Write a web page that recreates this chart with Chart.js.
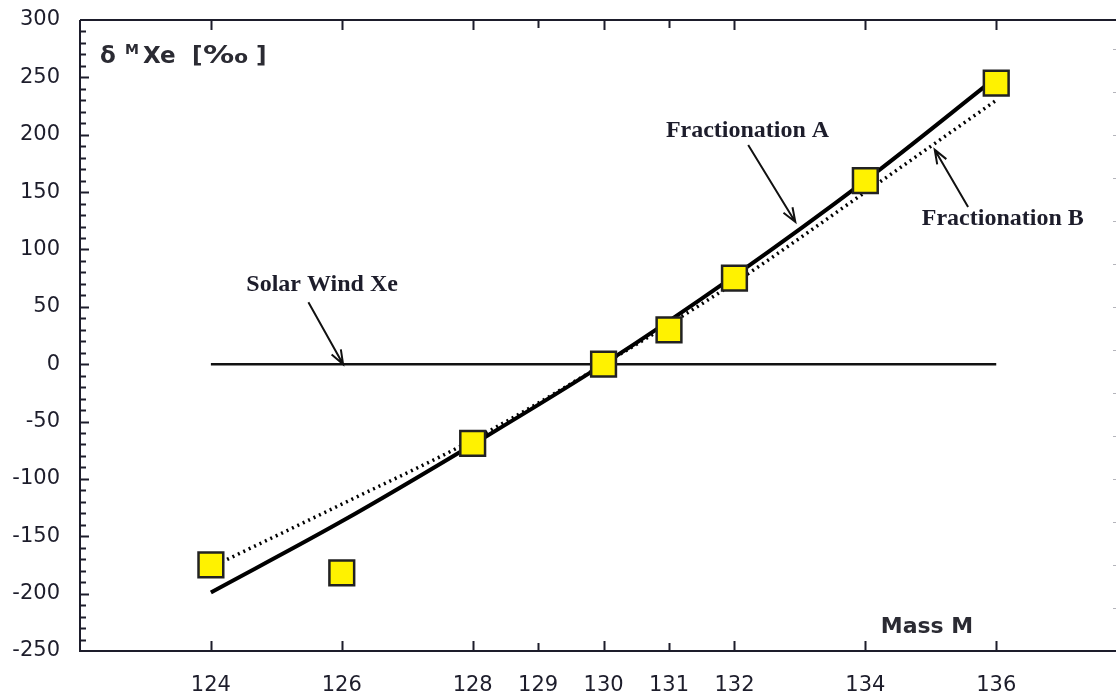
<!DOCTYPE html>
<html>
<head>
<meta charset="utf-8">
<script src="https://cdn.jsdelivr.net/npm/chart.js@4/dist/chart.umd.min.js"></script>
<style>
  html, body { margin: 0; padding: 0; background: #fff; overflow: hidden; }
  #wrap { width: 1116px; height: 695px; }
</style>
</head>
<body>
<div id="wrap"><canvas id="xeChart" width="1116" height="695"></canvas></div>
<script>
// xenon isotope fractionation: delta values per mass relative to solar wind

const massTicks = [124, 126, 128, 129, 130, 131, 132, 134, 136];
const shortTicks = [129, 131];
const deltaTicks = [-250, -200, -150, -100, -50, 0, 50, 100, 150, 200, 250, 300];

const measuredMass = [124, 126, 128, 130, 131, 132, 134, 136];
const measuredDelta = [-175, -182, -69, 0, 30, 75, 160, 245];

const curveMass = [124, 126, 128, 130, 132, 134, 136];
const fractionationA = [-199, -137, -70, 0, 77, 160, 250];
const fractionationB = [-177, -122, -66, 0, 71, 150, 230];

const solarMass = [124, 136];
const solarDelta = [0, 0];

const ink = "#1d1d2b";
const pts = (xs, ys) => xs.map((x, i) => ({ x: x, y: ys[i] }));

// labels and arrows, placed in data units
const notes = [
  { text: "Fractionation A", x: 132.2, y: 203, tail: [132.21, 191], tip: [132.93, 124] },
  { text: "Fractionation B", x: 136.1, y: 127, tail: [135.57, 137], tip: [135.06, 187] },
  { text: "Solar Wind Xe", x: 125.7, y: 69, tail: [125.49, 54], tip: [126.02, 0] }
];

function arrow(ctx, x1, y1, x2, y2) {
  const ang = Math.atan2(y2 - y1, x2 - x1);
  const head = 15, spread = 0.36;
  ctx.beginPath();
  ctx.moveTo(x1, y1);
  ctx.lineTo(x2, y2);
  ctx.moveTo(x2 - head * Math.cos(ang - spread), y2 - head * Math.sin(ang - spread));
  ctx.lineTo(x2, y2);
  ctx.lineTo(x2 - head * Math.cos(ang + spread), y2 - head * Math.sin(ang + spread));
  ctx.stroke();
}

const framePlugin = {
  id: "frame",
  beforeDatasetsDraw(chart) {
    const { ctx, chartArea: a, scales } = chart;
    const xs = scales.x, ys = scales.y;
    ctx.save();
    ctx.strokeStyle = ink;
    ctx.lineWidth = 2;
    ctx.beginPath();
    ctx.moveTo(a.left, a.top);
    ctx.lineTo(a.right, a.top);
    ctx.moveTo(a.left, a.top);
    ctx.lineTo(a.left, a.bottom);
    ctx.lineTo(a.right, a.bottom);
    ctx.stroke();

    // mass ticks, bottom and top, pointing inward
    massTicks.forEach((m) => {
      const px = Math.round(xs.getPixelForValue(m)) + 0.5;
      const len = shortTicks.includes(m) ? 8 : 10;
      ctx.beginPath();
      ctx.moveTo(px, a.bottom);
      ctx.lineTo(px, a.bottom - len);
      ctx.moveTo(px, a.top);
      ctx.lineTo(px, a.top + len);
      ctx.stroke();
    });

    // delta ticks every 10, longer every 50
    for (let v = -240; v < 300; v += 10) {
      const py = Math.round(ys.getPixelForValue(v)) + 0.5;
      const len = v % 50 === 0 ? 9 : 6;
      ctx.beginPath();
      ctx.moveTo(a.left, py);
      ctx.lineTo(a.left + len, py);
      ctx.stroke();
    }

    // faint right-hand ticks
    ctx.strokeStyle = "rgba(40,40,60,0.35)";
    ctx.lineWidth = 1;
    for (let v = -250; v <= 300; v += 37.5) {
      const py = Math.round(ys.getPixelForValue(v)) + 0.5;
      ctx.beginPath();
      ctx.moveTo(a.right - 3, py);
      ctx.lineTo(a.right, py);
      ctx.stroke();
    }
    ctx.restore();
  },
  afterDatasetsDraw(chart) {
    const { ctx, chartArea: a, scales } = chart;
    const xs = scales.x, ys = scales.y;
    ctx.save();
    ctx.fillStyle = ink;
    ctx.strokeStyle = "#111";
    ctx.lineWidth = 2;

    ctx.font = "bold 24px 'Liberation Serif', 'Times New Roman', serif";
    ctx.textAlign = "center";
    ctx.textBaseline = "middle";
    notes.forEach((n) => {
      ctx.fillText(n.text, xs.getPixelForValue(n.x), ys.getPixelForValue(n.y));
      arrow(ctx,
        xs.getPixelForValue(n.tail[0]), ys.getPixelForValue(n.tail[1]),
        xs.getPixelForValue(n.tip[0]), ys.getPixelForValue(n.tip[1]));
    });

    // y title: delta, superscript M, Xe [permil]
    ctx.fillStyle = "#2b2b33";
    ctx.textAlign = "left";
    ctx.textBaseline = "alphabetic";
    const tx = a.left + 20;
    const ty = a.top + 43;
    ctx.font = "bold 23px 'DejaVu Sans', Verdana, sans-serif";
    ctx.fillText("δ", tx, ty);
    ctx.fillText("Xe", tx + 43, ty);
    ctx.fillText("[", tx + 92, ty);
    ctx.fillText("]", tx + 156, ty);
    ctx.font = "bold 14px 'DejaVu Sans', Verdana, sans-serif";
    ctx.fillText("M", tx + 25, ty - 9);
    // the permil sign is set wide, as %o
    ctx.save();
    ctx.translate(tx + 103, ty);
    ctx.scale(1.3, 1);
    ctx.font = "bold 24px 'DejaVu Sans', Verdana, sans-serif";
    ctx.fillText("‰", 0, 0);
    ctx.restore();

    ctx.font = "bold 22px 'DejaVu Sans', Verdana, sans-serif";
    ctx.textAlign = "center";
    ctx.fillText("Mass M", 927, a.bottom - 18);
    ctx.restore();
  }
};

new Chart(document.getElementById("xeChart"), {
  type: "scatter",
  data: {
    datasets: [
      {
        label: "Measured",
        data: pts(measuredMass, measuredDelta),
        pointStyle: "rect",
        pointRadius: 17.5,
        pointHoverRadius: 17.5,
        backgroundColor: "#fff200",
        borderColor: "#222",
        borderWidth: 2.5,
        showLine: false,
        order: 0
      },
      {
        label: "Fractionation A",
        data: pts(curveMass, fractionationA),
        showLine: true,
        pointRadius: 0,
        borderColor: "#000",
        borderWidth: 4,
        cubicInterpolationMode: "monotone",
        order: 1
      },
      {
        label: "Fractionation B",
        data: pts(curveMass, fractionationB),
        showLine: true,
        pointRadius: 0,
        borderColor: "#000",
        borderWidth: 3.5,
        borderDash: [2, 4],
        cubicInterpolationMode: "monotone",
        order: 2
      },
      {
        label: "Solar Wind Xe",
        data: pts(solarMass, solarDelta),
        showLine: true,
        pointRadius: 0,
        borderColor: "#111",
        borderWidth: 2.5,
        order: 3
      }
    ]
  },
  options: {
    responsive: false,
    animation: false,
    layout: { autoPadding: false, padding: { top: 20, right: 0, left: 0, bottom: 0 } },
    plugins: { legend: { display: false }, tooltip: { enabled: false } },
    scales: {
      x: {
        type: "linear",
        min: 122,
        max: 137.83,
        afterBuildTicks: (scale) => { scale.ticks = massTicks.map((v) => ({ value: v })); },
        afterFit: (scale) => {
          scale.height = 44;
          scale.paddingLeft = 0;
          scale.paddingRight = 0;
        },
        grid: { display: false },
        border: { display: false },
        ticks: {
          color: ink,
          font: { family: "'DejaVu Sans', Verdana, sans-serif", size: 21 },
          padding: 14,
          maxRotation: 0,
          autoSkip: false
        }
      },
      y: {
        min: -250,
        max: 300,
        afterBuildTicks: (scale) => { scale.ticks = deltaTicks.map((v) => ({ value: v })); },
        afterFit: (scale) => {
          scale.width = 80;
          scale.paddingTop = 0;
          scale.paddingBottom = 0;
        },
        grid: { display: false },
        border: { display: false },
        ticks: {
          color: ink,
          font: { family: "'DejaVu Sans', Verdana, sans-serif", size: 21 },
          padding: 12
        }
      }
    }
  },
  plugins: [framePlugin]
});
</script>
</body>
</html>
